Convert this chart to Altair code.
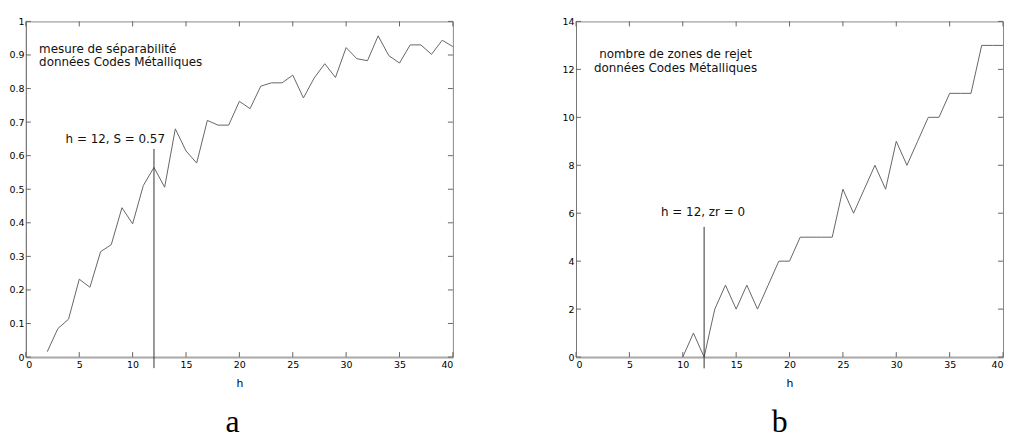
import altair as alt
import pandas as pd

# ---- panel a data ----
h_a = list(range(2, 41))
s_a = [0.016, 0.085, 0.113, 0.232, 0.208, 0.314, 0.335, 0.445, 0.397, 0.511,
       0.565, 0.506, 0.680, 0.614, 0.578, 0.705, 0.691, 0.691, 0.762, 0.740,
       0.807, 0.817, 0.817, 0.840, 0.772, 0.831, 0.874, 0.833, 0.922, 0.889,
       0.883, 0.957, 0.898, 0.876, 0.930, 0.930, 0.902, 0.944, 0.925]
rule_a_h = [12]
rule_a_lo = [-0.033]
rule_a_hi = [0.62]
ann_a_text = ["mesure de séparabilité", "données Codes Métalliques", "h = 12, S = 0.57"]
ann_a_h = [1.24, 1.24, 3.72]
ann_a_v = [0.907, 0.868, 0.639]

# ---- panel b data ----
h_b = list(range(10, 41))
zr_b = [0, 1, 0, 2, 3, 2, 3, 2, 3, 4, 4, 5, 5, 5, 5, 7, 6, 7, 8, 7, 9, 8, 9,
        10, 10, 11, 11, 11, 13, 13, 13]
rule_b_h = [12]
rule_b_lo = [-0.47]
rule_b_hi = [5.43]
ann_b_text = ["nombre de zones de rejet", "données Codes Métalliques", "h = 12, zr = 0"]
ann_b_h = [9.32, 9.32, 11.9]
ann_b_v = [12.47, 11.88, 5.88]

x_ticks = [0, 5, 10, 15, 20, 25, 30, 35, 40]
y_ticks_a = [0, 0.1, 0.2, 0.3, 0.4, 0.5, 0.6, 0.7, 0.8, 0.9, 1.0]
y_ticks_b = [0, 2, 4, 6, 8, 10, 12, 14]

W, H = 430, 338
TL = 5  # tick length in px
LABEL_FONT = "DejaVu Sans"


def panel(h, v, rh, rlo, rhi, atext, ah, av, ydom, yticks, yfmt, align, letter, ldx):
    xs = alt.Scale(domain=[0, 40], nice=False, zero=False)
    ys = alt.Scale(domain=ydom, nice=False, zero=False)
    df_line = pd.DataFrame({"h": h, "v": v})
    df_rule = pd.DataFrame({"h": rh, "lo": rlo, "hi": rhi})
    df_ann = pd.DataFrame({"t": atext, "h": ah, "v": av})
    df_xt = pd.DataFrame({"t": x_ticks})
    df_yt = pd.DataFrame({"t": yticks})

    x_lab = alt.Axis(values=x_ticks, format="d", ticks=False, tickSize=0, labelOverlap=False,
                     labelPadding=3, labelFont=LABEL_FONT, labelFontSize=9.5,
                     labelColor="#000", domain=True, domainColor="#aaa", domainWidth=2,
                     grid=False, title="h", titleFont=LABEL_FONT, titleFontSize=11,
                     titleFontWeight="normal", titleColor="#000", titlePadding=8)
    y_lab = alt.Axis(values=yticks, format=yfmt, ticks=False, tickSize=0, labelOverlap=False,
                     labelPadding=2, labelFont=LABEL_FONT, labelFontSize=9.5,
                     labelColor="#000", domain=True, domainColor="#777", domainWidth=1,
                     grid=False, title=None)

    def X(f):
        return alt.X(f, scale=xs, axis=x_lab, title="h")

    def Y(f):
        return alt.Y(f, scale=ys, axis=y_lab, title=None)

    line = alt.Chart(df_line).mark_line(color="#666", strokeWidth=1).encode(
        x=X("h:Q"), y=Y("v:Q"))
    rule = alt.Chart(df_rule).mark_rule(color="#333", strokeWidth=1).encode(
        x=X("h:Q"), y=Y("lo:Q"), y2="hi:Q")
    text = alt.Chart(df_ann).mark_text(align=align, baseline="alphabetic",
                                       font=LABEL_FONT, fontSize=12, color="#111").encode(
        x=X("h:Q"), y=Y("v:Q"), text="t:N")
    tick_style = dict(color="#666", strokeWidth=1)
    xt_bottom = alt.Chart(df_xt).mark_rule(**tick_style).encode(
        x=X("t:Q"), y=alt.value(H), y2=alt.value(H - TL))
    xt_top = alt.Chart(df_xt).mark_rule(**tick_style).encode(
        x=X("t:Q"), y=alt.value(0), y2=alt.value(TL))
    yt_left = alt.Chart(df_yt).mark_rule(**tick_style).encode(
        y=Y("t:Q"), x=alt.value(0), x2=alt.value(TL))
    yt_right = alt.Chart(df_yt).mark_rule(**tick_style).encode(
        y=Y("t:Q"), x=alt.value(W), x2=alt.value(W - TL))

    return alt.layer(line, rule, text, xt_bottom, xt_top, yt_left, yt_right).properties(
        width=W, height=H,
        title=alt.TitleParams(letter, orient="bottom", anchor="middle", font="Liberation Serif",
                              fontSize=32, fontWeight="normal", color="#000", offset=19, dx=ldx),
    )


pa = panel(h_a, s_a, rule_a_h, rule_a_lo, rule_a_hi, ann_a_text, ann_a_h, ann_a_v,
           [0, 1], y_ticks_a, "~g", "left", "a", -7)
pb = panel(h_b, zr_b, rule_b_h, rule_b_lo, rule_b_hi, ann_b_text, ann_b_h, ann_b_v,
           [0, 14], y_ticks_b, "d", "center", "b", -10)

chart = alt.hconcat(pa, pb, spacing=124, bounds="flush").properties(
    padding={"left": 0, "top": 6, "right": 0, "bottom": 0}
).configure_view(stroke="#888", strokeWidth=1)

chart.save("out.html", embed_options={"renderer": "svg", "actions": False})
